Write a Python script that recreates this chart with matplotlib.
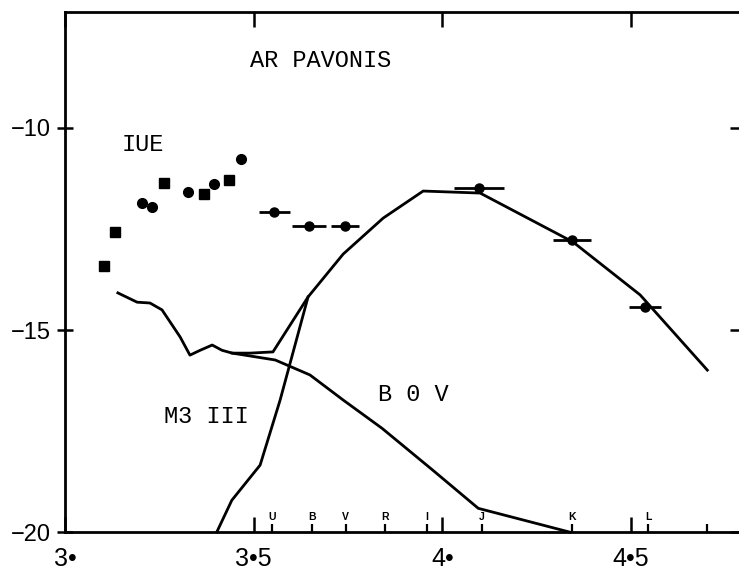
import matplotlib
matplotlib.use('Agg')
import matplotlib.pyplot as plt
from matplotlib.transforms import blended_transform_factory

# x: log wavelength (A), y: log flux
iue_x = [3.102, 3.133, 3.203, 3.230, 3.262, 3.327, 3.367, 3.395, 3.434, 3.465]
iue_y = [-13.41, -12.58, -11.86, -11.95, -11.37, -11.58, -11.63, -11.39, -11.29, -10.77]
iue_marker = ['s', 's', 'o', 'o', 's', 'o', 's', 'o', 's', 'o']

phot_x = [3.554, 3.647, 3.742, 4.097, 4.343, 4.537]
phot_y = [-12.07, -12.43, -12.43, -11.48, -12.77, -14.44]
phot_xerr = [0.041, 0.045, 0.036, 0.065, 0.051, 0.042]

# M3 III + B0 V combined model
sum_x = [3.140, 3.191, 3.225, 3.257, 3.305, 3.331, 3.358, 3.390, 3.416, 3.443,
         3.490, 3.551, 3.644, 3.737, 3.843, 3.949, 4.100, 4.346, 4.524, 4.702]
sum_y = [-14.08, -14.31, -14.33, -14.50, -15.17, -15.62, -15.50, -15.37, -15.50, -15.57,
         -15.57, -15.54, -14.18, -13.12, -12.23, -11.56, -11.61, -12.82, -14.13, -15.99]

b0v_x = [3.443, 3.557, 3.649, 3.737, 3.840, 3.975, 4.095, 4.338]
b0v_y = [-15.57, -15.74, -16.11, -16.73, -17.43, -18.47, -19.41, -20.0]

m3_x = [3.402, 3.442, 3.517, 3.570, 3.644]
m3_y = [-20.0, -19.21, -18.34, -16.73, -14.18]

filter_names = ['U', 'B', 'V', 'R', 'I', 'J', 'K', 'L']
filter_x = [3.548, 3.655, 3.744, 3.848, 3.959, 4.105, 4.343, 4.545]

major_ticks = [3.0, 3.5, 4.0, 4.5]
major_labels = ['3•', '3•5', '4•', '4•5']
y_ticks = [-20, -15, -10]

mono = ['Liberation Mono', 'DejaVu Sans Mono']
sans = ['Liberation Sans', 'DejaVu Sans']

fig = plt.figure(figsize=(7.39, 5.71), dpi=100)
ax = fig.add_axes([0.088, 0.068, 0.911, 0.911])

lw = 2.0
ax.plot(sum_x, sum_y, color='black', lw=lw, clip_on=False)
ax.plot(b0v_x, b0v_y, color='black', lw=lw, clip_on=False)
ax.plot(m3_x, m3_y, color='black', lw=lw, clip_on=False)

for x, y, m in zip(iue_x, iue_y, iue_marker):
    ax.plot(x, y, marker=m, color='black', ms=7 if m == 'o' else 6.5, ls='none')

ax.errorbar(phot_x, phot_y, xerr=phot_xerr, fmt='o', color='black',
            ms=6.5, elinewidth=2.0, capsize=0)

ax.text(3.49, -8.32, 'AR PAVONIS', family=mono, fontsize=17, va='center')
ax.text(3.151, -10.42, 'IUE', family=mono, fontsize=17, va='center')
ax.text(3.262, -17.15, 'M3 III', family=mono, fontsize=17, va='center')
ax.text(3.83, -16.6, 'B 0 V', family=mono, fontsize=17, va='center')

ax.set_xlim(3.0, 4.784)
ax.set_ylim(-20, -7.13)

ax.set_xticks(major_ticks)
ax.set_xticklabels(major_labels, family=sans, fontsize=18)
ax.set_xticks(filter_x + [4.7], minor=True)
ax.set_yticks(y_ticks)
ax.set_yticklabels(['−20', '−15', '−10'], family=sans, fontsize=17)

ax.tick_params(axis='x', which='major', direction='in', length=11, width=1.8,
               top=True, pad=11)
ax.tick_params(axis='x', which='minor', direction='in', length=6, width=1.6,
               top=False)
ax.tick_params(axis='y', which='major', direction='inout', length=11, width=1.8,
               right=True, pad=5)

trans = blended_transform_factory(ax.transData, ax.transAxes)
for name, x in zip(filter_names, filter_x):
    ax.text(x, 0.02, name, transform=trans, family=sans, fontsize=7.5,
            fontweight='bold', ha='center', va='bottom')

for side in ['left', 'bottom', 'top']:
    ax.spines[side].set_linewidth(2.0)
ax.spines['right'].set_visible(False)

fig.savefig('out.png', dpi=100)
